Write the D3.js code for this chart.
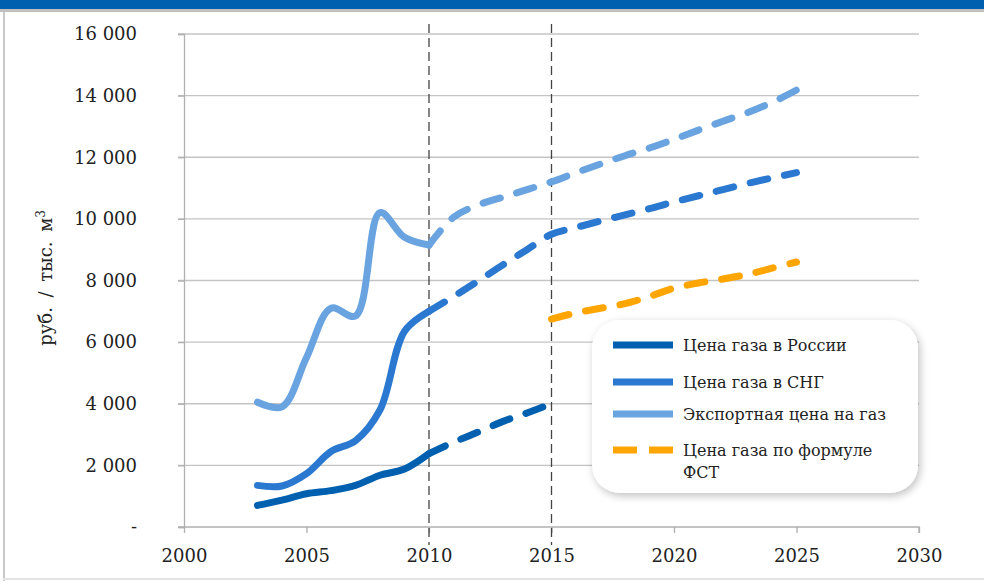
<!DOCTYPE html>
<html>
<head>
<meta charset="utf-8">
<script src="https://cdn.jsdelivr.net/npm/d3@7"></script>
<style>
  body { margin: 0; background: #fff; }
  text { font-family: "DejaVu Serif", "Liberation Serif", serif; fill: #222; }
</style>
</head>
<body>
<svg id="chart" width="984" height="581"></svg>
<script>
// data
var years = [2003, 2004, 2005, 2006, 2007, 2008, 2009, 2010];
var forecastYears = [2010, 2011, 2012, 2013, 2014, 2015, 2016, 2017, 2018, 2019, 2020, 2021, 2022, 2023, 2024, 2025];
var russia = [700, 870, 1080, 1180, 1350, 1680, 1880, 2380];
var russiaForecast = [2380, 2750, 3080, 3420, 3700, 4000];
var cis = [1350, 1330, 1730, 2450, 2800, 3800, 6350, 7000];
var cisForecast = [7000, 7480, 7980, 8500, 9000, 9500, 9720, 9930, 10130, 10330, 10550, 10750, 10950, 11150, 11330, 11500];
var exportPrice = [4050, 3900, 5500, 7100, 6850, 10200, 9400, 9150];
var exportForecast = [9150, 10050, 10450, 10700, 10950, 11200, 11500, 11780, 12050, 12300, 12580, 12880, 13170, 13450, 13780, 14180];
var fstYears = [2015, 2016, 2017, 2018, 2019, 2020, 2021, 2022, 2023, 2024, 2025];
var fst = [6750, 6950, 7100, 7250, 7480, 7750, 7920, 8050, 8200, 8400, 8600];
var xTicks = [2000, 2005, 2010, 2015, 2020, 2025, 2030];
var yTicks = [0, 2000, 4000, 6000, 8000, 10000, 12000, 14000, 16000];
var markerYears = [2010, 2015];
var legendLabels = ["Цена газа в России", "Цена газа в СНГ", "Экспортная цена на газ", ["Цена газа по формуле", "ФСТ"]];
var colors = ["#0060b0", "#2a78d0", "#6aa4e0", "#ffa500"];

var svg = d3.select("#chart");

// frame: blue band on top, grey borders
svg.append("rect").attr("x", 0).attr("y", 0).attr("width", 984).attr("height", 12).attr("fill", "#c0c0c0");
svg.append("rect").attr("x", 0).attr("y", 0).attr("width", 984).attr("height", 9).attr("fill", "#0060b0");
svg.append("rect").attr("x", 3).attr("y", 12).attr("width", 2).attr("height", 569).attr("fill", "#c8c8c8");
svg.append("rect").attr("x", 3).attr("y", 578).attr("width", 981).attr("height", 2).attr("fill", "#e4e4e4");

var defs = svg.append("defs");
var shadow = defs.append("filter").attr("id", "dropshadow")
  .attr("x", "-10%").attr("y", "-10%").attr("width", "130%").attr("height", "130%");
shadow.append("feGaussianBlur").attr("in", "SourceAlpha").attr("stdDeviation", 4);
shadow.append("feOffset").attr("dx", 2).attr("dy", 3).attr("result", "offsetblur");
shadow.append("feComponentTransfer").append("feFuncA").attr("type", "linear").attr("slope", 0.25);
var merge = shadow.append("feMerge");
merge.append("feMergeNode");
merge.append("feMergeNode").attr("in", "SourceGraphic");

var x = d3.scaleLinear().domain([2000, 2030]).range([184, 919]);
var y = d3.scaleLinear().domain([0, 16000]).range([527, 34]);

// grid
svg.append("g").selectAll("line").data(yTicks.slice(1)).join("line")
  .attr("x1", 178).attr("x2", x(2030))
  .attr("y1", function(d) { return y(d); }).attr("y2", function(d) { return y(d); })
  .attr("stroke", "#c4c4c4").attr("stroke-width", 1.3);

var fmt = function(d) { return d === 0 ? "-" : d3.format(",")(d).replace(/,/g, " "); };

var yAxis = svg.append("g").attr("transform", "translate(184,0)")
  .call(d3.axisLeft(y).tickValues(yTicks).tickSize(6).tickPadding(41).tickFormat(fmt));
var xAxis = svg.append("g").attr("transform", "translate(0,527)")
  .call(d3.axisBottom(x).tickValues(xTicks).tickSize(6).tickPadding(16).tickFormat(d3.format("d")));
[yAxis, xAxis].forEach(function(a) {
  a.select(".domain").attr("stroke", "#b0b0b0").attr("stroke-width", 1.3);
  a.selectAll(".tick line").attr("stroke", "#b0b0b0").attr("stroke-width", 1.3);
  a.selectAll("text").style("font-family", "DejaVu Serif").attr("font-size", 18).attr("fill", "#222");
});
xAxis.select(".domain").attr("d", "M" + (x(2000) - 6) + ",0H" + x(2030) + "V6");

svg.append("text").attr("transform", "translate(52,278) rotate(-90)")
  .attr("text-anchor", "middle").attr("font-size", 18).attr("word-spacing", 4)
  .text("руб. / тыс. м").append("tspan").attr("font-size", 12).attr("dy", -7).text("3");

// vertical markers
svg.append("g").selectAll("line").data(markerYears).join("line")
  .attr("x1", function(d) { return x(d); }).attr("x2", function(d) { return x(d); })
  .attr("y1", 24).attr("y2", 545)
  .attr("stroke", "#444").attr("stroke-width", 1.3).attr("stroke-dasharray", "9 5");

var line = d3.line().curve(d3.curveCatmullRom.alpha(0.5))
  .x(function(d) { return x(d[0]); }).y(function(d) { return y(d[1]); });

function drawSeries(xs, vs, color, dashed) {
  var p = svg.append("path").datum(d3.zip(xs, vs))
    .attr("d", line).attr("fill", "none").attr("stroke", color)
    .attr("stroke-width", 7).attr("stroke-linecap", "round").attr("stroke-linejoin", "round");
  if (dashed) p.attr("stroke-dasharray", "18 17");
}

drawSeries(years, exportPrice, colors[2], false);
drawSeries(forecastYears, exportForecast, colors[2], true);
drawSeries(years, cis, colors[1], false);
drawSeries(forecastYears, cisForecast, colors[1], true);
drawSeries(years, russia, colors[0], false);
drawSeries(forecastYears.slice(0, russiaForecast.length), russiaForecast, colors[0], true);
drawSeries(fstYears, fst, colors[3], true);

// legend
var legend = svg.append("g");
legend.append("rect").attr("x", 592).attr("y", 320).attr("width", 326).attr("height", 173)
  .attr("rx", 28).attr("fill", "#fff").attr("filter", "url(#dropshadow)");
var rowY = [345, 382, 414, 450];
legendLabels.forEach(function(lab, i) {
  var g = legend.append("g").attr("transform", "translate(0," + rowY[i] + ")");
  g.append("line").attr("x1", 613).attr("x2", 673).attr("y1", 0).attr("y2", 0)
    .attr("stroke", colors[i]).attr("stroke-width", 7)
    .attr("stroke-dasharray", i === 3 ? "24 12" : null);
  var t = g.append("text").attr("x", 683).attr("y", 6).attr("font-size", 16);
  if (Array.isArray(lab)) {
    t.append("tspan").attr("x", 683).text(lab[0]);
    t.append("tspan").attr("x", 683).attr("dy", 22).text(lab[1]);
  } else {
    t.text(lab);
  }
});
</script>
</body>
</html>
